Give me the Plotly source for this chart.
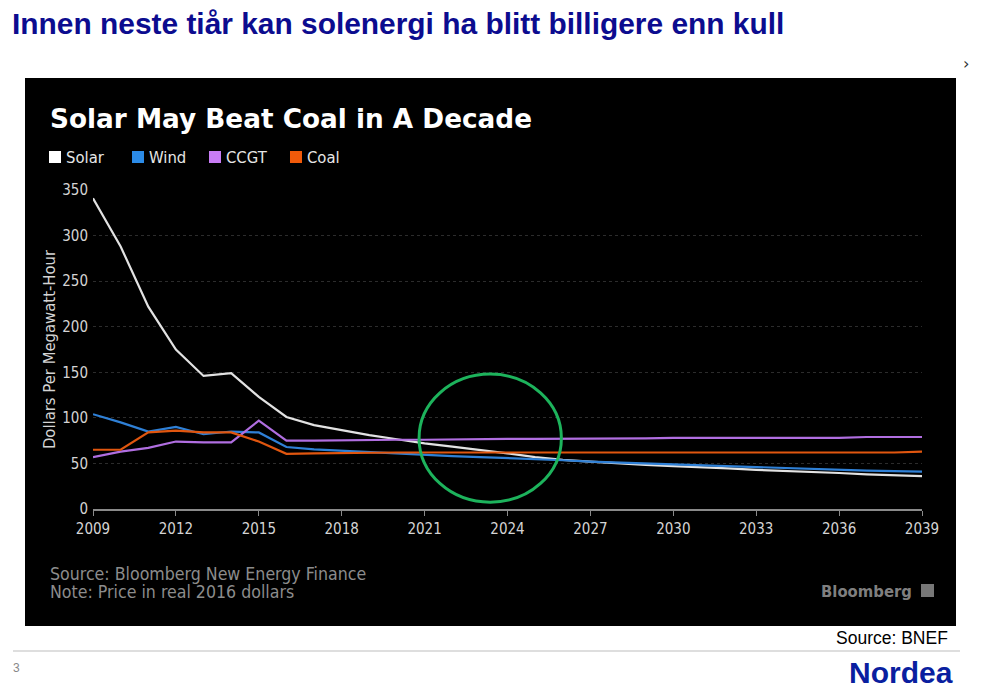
import plotly.graph_objects as go

years = list(range(2009, 2040))
solar = [341, 288, 222, 175, 146, 149, 123, 101, 92, 86.5, 81, 76.5, 72, 68.5, 65, 61,
         57, 54, 52, 50, 48.5, 47, 46, 44.5, 43, 42, 41, 39.5, 38, 37, 36]
wind = [104, 95, 85, 90, 82, 85, 84, 68, 65.5, 64, 62.5, 61, 59, 58, 57, 56,
        55, 53.5, 52, 51, 50, 48.5, 47.5, 46.5, 45.5, 45, 44, 43, 42, 41.5, 41]
ccgt = [57, 63, 67, 74, 73, 73, 97, 75, 75, 75.5, 76, 76, 76, 76.5, 76.5, 77,
        77, 77, 77, 77, 77.5, 78, 78, 78, 78, 78, 78, 78, 79, 79, 79]
coal = [65, 65, 84, 86, 84, 84, 74, 60.5, 61, 61.5, 62, 62, 62, 62, 62, 62,
        62, 62, 62, 62, 62, 62, 62, 62, 62, 62, 62, 62, 62, 62, 63]

series_names = ["Solar", "Wind", "CCGT", "Coal"]
series_values = [solar, wind, ccgt, coal]
line_colors = ["#e2e2e2", "#2f80d6", "#b06ee0", "#e0560f"]
legend_colors = ["#ffffff", "#2b8be8", "#c87cf5", "#f05a0a"]

x_ticks = list(range(2009, 2040, 3))
y_ticks = list(range(0, 351, 50))

O = 8  # page body margin offset
W, H = 983 - O, 694 - O
L, R, T, B = 93, 922, 190, 509  # plot area in screen pixels


def px(xp):
    return (xp - L) / (R - L)


def py(yp):
    return (B - yp) / (B - T)


fig = go.Figure()
for name, vals, col in zip(series_names, series_values, line_colors):
    fig.add_trace(go.Scatter(x=years, y=vals, mode="lines", name=name,
                             line=dict(color=col, width=2.2), showlegend=False))

cond = "DejaVu Sans Condensed, DejaVu Sans, sans-serif"
arial = "Liberation Sans, Arial, sans-serif"
shapes = []
shapes.append(dict(type="rect", xref="paper", yref="paper", layer="below",
                   x0=px(25), x1=px(956), y0=py(626), y1=py(78),
                   fillcolor="#000000", line=dict(width=0)))
shapes.append(dict(type="circle", xref="x", yref="y",
                   x0=2020.8, x1=2025.95, y0=7.5, y1=148,
                   line=dict(color="#1db35c", width=3)))
shapes.append(dict(type="line", xref="paper", yref="paper",
                   x0=px(13), x1=px(960), y0=py(651), y1=py(651),
                   line=dict(color="#bdbdbd", width=1)))
shapes.append(dict(type="rect", xref="paper", yref="paper",
                   x0=px(921), x1=px(934), y0=py(597), y1=py(584),
                   fillcolor="#777777", line=dict(width=0)))

annotations = []
legend_x = [49, 132, 209, 290]
for name, col, lx in zip(series_names, legend_colors, legend_x):
    shapes.append(dict(type="rect", xref="paper", yref="paper",
                       x0=px(lx), x1=px(lx + 12), y0=py(163), y1=py(151),
                       fillcolor=col, line=dict(width=0)))
    annotations.append(dict(text=name, xref="paper", yref="paper",
                            x=px(lx + 15), y=py(157), xanchor="left", yanchor="middle",
                            showarrow=False, font=dict(family=cond, size=16.5, color="#e6e6e6")))

annotations += [
    dict(text="<b>Innen neste tiår kan solenergi ha blitt billigere enn kull</b>",
         xref="paper", yref="paper", x=px(10), y=py(23), xanchor="left", yanchor="middle",
         showarrow=False, font=dict(family=arial, size=29.9, color="#0c0c8f")),
    dict(text="<b>Solar May Beat Coal in A Decade</b>",
         xref="paper", yref="paper", x=px(48), y=py(119), xanchor="left", yanchor="middle",
         showarrow=False, font=dict(family="DejaVu Sans, sans-serif", size=26.3, color="#ffffff")),
    dict(text="Source: Bloomberg New Energy Finance",
         xref="paper", yref="paper", x=px(48), y=py(574), xanchor="left", yanchor="middle",
         showarrow=False, font=dict(family=cond, size=17.6, color="#8c8c8c")),
    dict(text="Note: Price in real 2016 dollars",
         xref="paper", yref="paper", x=px(48), y=py(592), xanchor="left", yanchor="middle",
         showarrow=False, font=dict(family=cond, size=17.6, color="#8c8c8c")),
    dict(text="<b>Bloomberg</b>",
         xref="paper", yref="paper", x=px(914), y=py(591), xanchor="right", yanchor="middle",
         showarrow=False, font=dict(family=cond, size=16.5, color="#7f7f7f")),
    dict(text="Source: BNEF",
         xref="paper", yref="paper", x=px(950), y=py(638), xanchor="right", yanchor="middle",
         showarrow=False, font=dict(family=arial, size=17.5, color="#000000")),
    dict(text="3",
         xref="paper", yref="paper", x=px(11), y=py(668), xanchor="left", yanchor="middle",
         showarrow=False, font=dict(family=arial, size=12, color="#888888")),
    dict(text="<b>Nordea</b>",
         xref="paper", yref="paper", x=px(955), y=py(672), xanchor="right", yanchor="middle",
         showarrow=False, font=dict(family=arial, size=30, color="#0a1fa0")),
    dict(text="›",
         xref="paper", yref="paper", x=px(966), y=py(63), xanchor="center", yanchor="middle",
         showarrow=False, font=dict(family="DejaVu Sans, sans-serif", size=16, color="#333333")),
]

fig.update_layout(
    width=W, height=H,
    margin=dict(l=L - O, r=983 - R, t=T - O, b=694 - B, pad=0),
    paper_bgcolor="#ffffff", plot_bgcolor="rgba(0,0,0,0)",
    showlegend=False,
    shapes=shapes, annotations=annotations,
    xaxis=dict(range=[2009, 2039], tickvals=x_ticks, showgrid=False, zeroline=False,
               showline=True, linecolor="#8a8a8a", linewidth=1.5,
               ticks="outside", ticklen=5, tickcolor="#8a8a8a",
               tickfont=dict(family=cond, size=15, color="#d4d4d4")),
    yaxis=dict(range=[0, 350], tickvals=y_ticks, showgrid=True, gridcolor="#2c2c2c",
               griddash="dot", zeroline=False, showline=False, ticks="",
               ticklabelstandoff=4,
               tickfont=dict(family=cond, size=15, color="#d4d4d4"),
               title=dict(text="Dollars Per Megawatt-Hour", standoff=2,
                          font=dict(family=cond, size=16.5, color="#d4d4d4"))),
)

fig.write_html("out.html")
